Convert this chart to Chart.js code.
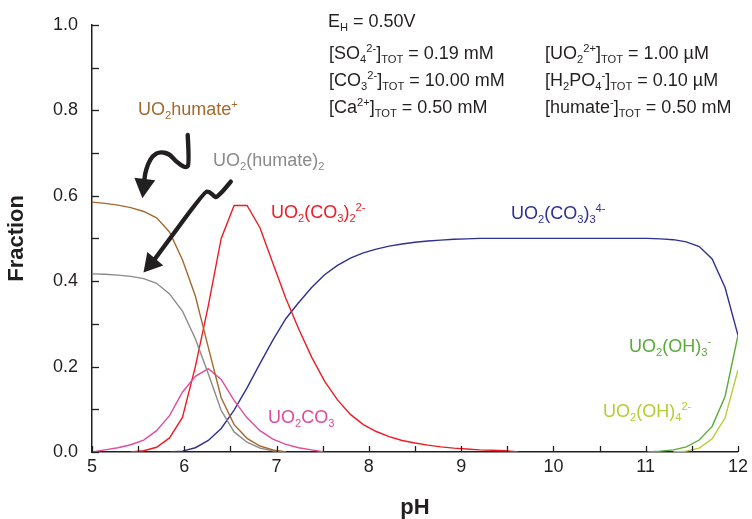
<!DOCTYPE html>
<html><head><meta charset="utf-8">
<script src="https://cdn.jsdelivr.net/npm/chart.js@4"></script>
<style>html,body{margin:0;padding:0;background:#fff}#wrap{width:752px;height:519px}</style>
</head><body><div id="wrap"><canvas id="c" width="752" height="519"></canvas></div>
<script>
// pH grid of the speciation calculation
const pH = [5.00,5.14,5.28,5.42,5.56,5.70,5.84,5.98,6.12,6.26,6.40,6.54,6.68,6.82,6.96,7.10,7.24,7.38,7.52,7.66,
            7.80,7.94,8.08,8.22,8.36,8.50,8.64,8.78,8.92,9.06,9.20,9.34,9.48,9.62,9.76,9.90,10.04,10.18,10.32,10.46,
            10.60,10.74,10.88,11.02,11.16,11.30,11.44,11.58,11.72,11.86,12.00];
const _ = null;
// UO2humate+
const uo2Humate = [0.585,0.582,0.578,0.572,0.563,0.548,0.515,0.450,0.365,0.245,0.127,0.064,0.032,0.014,0.005,0.000,_,_,_,_,
                   _,_,_,_,_,_,_,_,_,_,_,_,_,_,_,_,_,_,_,_, _,_,_,_,_,_,_,_,_,_,_];
// UO2(humate)2
const uo2Humate2 = [0.417,0.416,0.414,0.411,0.406,0.395,0.370,0.330,0.265,0.183,0.097,0.047,0.023,0.009,0.003,0.000,_,_,_,_,
                    _,_,_,_,_,_,_,_,_,_,_,_,_,_,_,_,_,_,_,_, _,_,_,_,_,_,_,_,_,_,_];
// UO2CO3
const uo2CO3 = [0.000,0.005,0.010,0.017,0.028,0.050,0.085,0.140,0.177,0.195,0.170,0.121,0.080,0.050,0.030,0.018,0.010,0.005,0.000,_,
                _,_,_,_,_,_,_,_,_,_,_,_,_,_,_,_,_,_,_,_, _,_,_,_,_,_,_,_,_,_,_];
// UO2(CO3)2 2-
const uo2CO3_2 = [_,_,_,0.000,0.003,0.011,0.033,0.081,0.200,0.342,0.500,0.577,0.577,0.525,0.442,0.360,0.288,0.222,0.166,0.122,
                  0.088,0.064,0.048,0.036,0.027,0.021,0.016,0.012,0.009,0.007,0.005,0.004,0.003,0.000,_,_,_,_,_,_,
                  _,_,_,_,_,_,_,_,_,_,_];
// UO2(CO3)3 4-
const uo2CO3_3 = [_,_,_,_,_,_,0.000,0.002,0.010,0.027,0.055,0.098,0.150,0.207,0.262,0.312,0.350,0.385,0.415,0.437,
                  0.454,0.466,0.475,0.482,0.487,0.491,0.494,0.496,0.498,0.499,0.500,0.500,0.500,0.500,0.500,0.500,0.500,0.500,0.500,0.500,
                  0.500,0.500,0.500,0.500,0.499,0.497,0.492,0.481,0.452,0.385,0.273];
// UO2(OH)3-
const uo2OH3 = [_,_,_,_,_,_,_,_,_,_,_,_,_,_,_,_,_,_,_,_, _,_,_,_,_,_,_,_,_,_,_,_,_,_,_,_,_,_,_,_,
                _,_,_,0.000,0.002,0.005,0.012,0.028,0.060,0.130,0.273];
// UO2(OH)4 2-
const uo2OH4 = [_,_,_,_,_,_,_,_,_,_,_,_,_,_,_,_,_,_,_,_, _,_,_,_,_,_,_,_,_,_,_,_,_,_,_,_,_,_,_,_,
                _,_,_,_,_,0.000,0.002,0.009,0.031,0.080,0.192];

const xTickStep = 0.5, yTickStep = 0.1;
const FONT = '"Liberation Sans", Arial, Helvetica, sans-serif';
const INK = '#231f20';

const series = [
  {name:'UO2humate+', data:uo2Humate, color:'#a3692f'},
  {name:'UO2(humate)2', data:uo2Humate2, color:'#8a8a8a'},
  {name:'UO2CO3', data:uo2CO3, color:'#df4b9e'},
  {name:'UO2(CO3)2 2-', data:uo2CO3_2, color:'#ed1c24'},
  {name:'UO2(CO3)3 4-', data:uo2CO3_3, color:'#2e3192'},
  {name:'UO2(OH)3-', data:uo2OH3, color:'#5aab3a'},
  {name:'UO2(OH)4 2-', data:uo2OH4, color:'#b8cc34'}
];

// text annotations: [markup, x, y(baseline), color]
const infoTexts = [
  ['E_{H} = 0.50V', 328, 27, INK],
  ['[SO_{4}^{2-}]_{TOT} = 0.19 mM', 329, 59, INK],
  ['[CO_{3}^{2-}]_{TOT} = 10.00 mM', 329, 86, INK],
  ['[Ca^{2+}]_{TOT} = 0.50 mM', 329, 113, INK],
  ['[UO_{2}^{2+}]_{TOT} = 1.00 µM', 545, 59, INK],
  ['[H_{2}PO_{4}^{-}]_{TOT} = 0.10 µM', 545, 86, INK],
  ['[humate^{-}]_{TOT} = 0.50 mM', 545, 113, INK]
];
const curveLabels = [
  ['UO_{2}humate^{+}', 138, 115, '#a3692f'],
  ['UO_{2}(humate)_{2}', 213, 166, '#8a8a8a'],
  ['UO_{2}(CO_{3})_{2}^{2-}', 271, 218, '#ed1c24'],
  ['UO_{2}(CO_{3})_{3}^{4-}', 511, 219, '#2e3192'],
  ['UO_{2}CO_{3}', 268, 423, '#df4b9e'],
  ['UO_{2}(OH)_{3}^{-}', 629, 352, '#5aab3a'],
  ['UO_{2}(OH)_{4}^{2-}', 603, 417, '#b8cc34']
];
// pointer arrows in data coordinates (pH, fraction): shaft points, then head base, then tip
const arrow1 = [[6.037,0.742],[6.055,0.675],[6.020,0.664],[5.912,0.679],[5.840,0.698],[5.732,0.703],[5.660,0.694],[5.606,0.675],[5.571,0.648],[5.568,0.632]];
const arrow1Tip = [5.546,0.594];
const arrow2 = [[6.504,0.633],[6.360,0.595],[6.325,0.598],[6.271,0.610],[6.217,0.609],[5.665,0.447]];
const arrow2Tip = [5.558,0.420];

function parseMarkup(s){
  const parts=[]; let i=0, buf='';
  while(i<s.length){
    if((s[i]==='_'||s[i]==='^') && s[i+1]==='{'){
      if(buf){parts.push([buf,'n']);buf='';}
      const end=s.indexOf('}',i);
      parts.push([s.slice(i+2,end), s[i]==='_'?'sub':'sup']);
      i=end+1;
    } else { buf+=s[i]; i++; }
  }
  if(buf) parts.push([buf,'n']);
  return parts;
}
function richText(ctx, markup, x, y, color, size){
  ctx.fillStyle=color; ctx.textBaseline='alphabetic'; ctx.textAlign='left';
  let cx=x;
  for(const [t,m] of parseMarkup(markup)){
    const fs = m==='n'? size : size*0.62;
    const dy = m==='sub'? size*0.22 : (m==='sup'? -size*0.40 : 0);
    ctx.font = fs+'px '+FONT;
    ctx.fillText(t,cx,y+dy);
    cx += ctx.measureText(t).width;
  }
}
function drawArrow(ctx, xs, ys, pts, tip){
  const P = pts.map(p=>[xs.getPixelForValue(p[0]), ys.getPixelForValue(p[1])]);
  const T = [xs.getPixelForValue(tip[0]), ys.getPixelForValue(tip[1])];
  ctx.save();
  ctx.strokeStyle=INK; ctx.fillStyle=INK; ctx.lineWidth=4.4; ctx.lineCap='round'; ctx.lineJoin='round';
  ctx.beginPath(); ctx.moveTo(P[0][0],P[0][1]);
  for(let i=1;i<P.length-1;i++){
    const mx=(P[i][0]+P[i+1][0])/2, my=(P[i][1]+P[i+1][1])/2;
    ctx.quadraticCurveTo(P[i][0],P[i][1],mx,my);
  }
  const L=P[P.length-1]; ctx.lineTo(L[0],L[1]); ctx.stroke();
  // head
  const dx=T[0]-L[0], dy=T[1]-L[1], len=Math.hypot(dx,dy);
  const ux=dx/len, uy=dy/len, hw=10.5, back=3;
  const bx=L[0]-ux*back, by=L[1]-uy*back;
  ctx.beginPath();
  ctx.moveTo(T[0],T[1]);
  ctx.lineTo(bx-uy*hw, by+ux*hw);
  ctx.lineTo(bx+uy*hw, by-ux*hw);
  ctx.closePath(); ctx.fill();
  ctx.restore();
}

const decorPlugin = {
  id:'decor',
  afterDraw(chart){
    const ctx=chart.ctx, xs=chart.scales.x, ys=chart.scales.y, ca=chart.chartArea;
    ctx.save();
    ctx.strokeStyle=INK; ctx.lineWidth=1.3;
    // inward ticks
    xs.ticks.forEach(t=>{ const px=Math.round(xs.getPixelForValue(t.value))+0.5;
      ctx.beginPath(); ctx.moveTo(px,ca.bottom); ctx.lineTo(px,ca.bottom-6); ctx.stroke(); });
    ys.ticks.forEach(t=>{ const py=Math.round(ys.getPixelForValue(t.value))+0.5;
      ctx.beginPath(); ctx.moveTo(ca.left,py); ctx.lineTo(ca.left+7,py); ctx.stroke(); });
    ctx.restore();
    for(const [m,x,y,c] of infoTexts) richText(ctx,m,x,y,c,18);
    for(const [m,x,y,c] of curveLabels) richText(ctx,m,x,y,c,18);
    drawArrow(ctx,xs,ys,arrow1,arrow1Tip);
    drawArrow(ctx,xs,ys,arrow2,arrow2Tip);
  }
};

new Chart(document.getElementById('c'),{
  type:'line',
  data:{
    datasets: series.map(s=>({
      label:s.name,
      data:pH.map((x,i)=>({x:x,y:s.data[i]})),
      borderColor:s.color, backgroundColor:s.color,
      borderWidth:1.4, pointRadius:0, tension:0, spanGaps:false, fill:false
    }))
  },
  options:{
    responsive:false, animation:false, devicePixelRatio:1,
    layout:{padding:{top:17,right:10,left:0,bottom:0}},
    plugins:{legend:{display:false}, tooltip:{enabled:false}},
    scales:{
      x:{type:'linear', min:5, max:12,
        afterFit:s=>{s.height=67;},
        ticks:{stepSize:xTickStep, autoSkip:false, maxRotation:0, padding:4, color:INK,
          font:{size:18, family:FONT},
          callback:v=>Number.isInteger(v)?String(v):''},
        grid:{drawOnChartArea:false, drawTicks:false},
        border:{display:true, color:INK, width:1.5},
        title:{display:true, text:'pH', color:INK, font:{size:22, weight:'bold', family:FONT, lineHeight:1}, padding:{top:0,bottom:0}}
      },
      y:{min:0, max:1,
        afterFit:s=>{s.width=92;},
        ticks:{stepSize:yTickStep, autoSkip:false, padding:14, color:INK,
          font:{size:18, family:FONT},
          callback:v=>(Math.round(v*10)%2===0)?v.toFixed(1):''},
        grid:{drawOnChartArea:false, drawTicks:false},
        border:{display:true, color:INK, width:1.5},
        title:{display:true, text:'Fraction', color:INK, font:{size:22, weight:'bold', family:FONT, lineHeight:1}, padding:{top:6,bottom:0}}
      }
    }
  },
  plugins:[decorPlugin]
});
</script></body></html>
